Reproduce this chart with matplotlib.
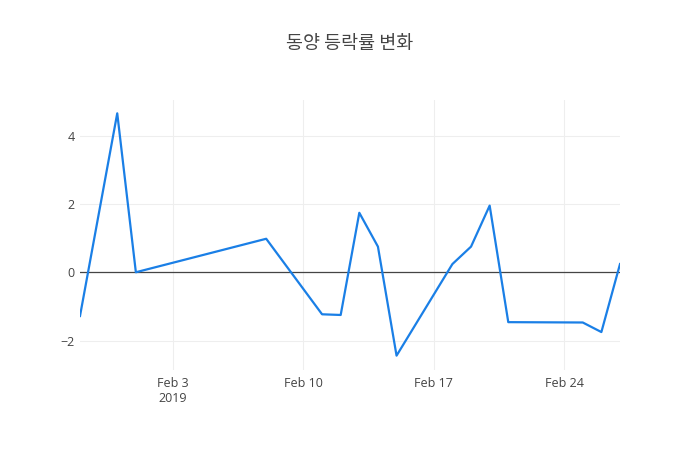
import matplotlib
matplotlib.use("Agg")
import matplotlib.pyplot as plt
import pandas as pd

# 동양 daily change rate (%)
dates = ["2019-01-29", "2019-01-31", "2019-02-01", "2019-02-08", "2019-02-11",
         "2019-02-12", "2019-02-13", "2019-02-14", "2019-02-15", "2019-02-18",
         "2019-02-19", "2019-02-20", "2019-02-21", "2019-02-25", "2019-02-26",
         "2019-02-27"]
rates = [-1.28, 4.65, 0.0, 0.98, -1.23, -1.25, 1.74, 0.75, -2.44, 0.24,
         0.75, 1.95, -1.46, -1.47, -1.75, 0.24]
tick_dates = ["2019-02-03", "2019-02-10", "2019-02-17", "2019-02-24"]
tick_labels = ["Feb 3\n2019", "Feb 10", "Feb 17", "Feb 24"]
title = "동양 등락률 변화"

x = pd.to_datetime(dates)

plt.rcParams['font.family'] = ['Open Sans', 'DejaVu Sans']

fig = plt.figure(figsize=(7, 4.5), dpi=100)
ax = fig.add_axes([80 / 700, 80 / 450, 540 / 700, 270 / 450])

ax.plot(x, rates, color='#1a7fe6', linewidth=1.6, zorder=3)
ax.axhline(0, color='#444444', linewidth=0.9, zorder=2)

ax.set_xlim(pd.Timestamp(dates[0]), pd.Timestamp(dates[-1]))
ax.set_ylim(-2.86, 5.04)

ax.set_xticks(pd.to_datetime(tick_dates))
ax.set_xticklabels(tick_labels)
ax.set_yticks([-2, 0, 2, 4])
ax.set_yticklabels(["\u22122", "0", "2", "4"])

ax.grid(True, color='#eeeeee', linewidth=0.8, zorder=0)
for s in ax.spines.values():
    s.set_visible(False)
ax.tick_params(length=0, labelsize=9, colors='#444444')
ax.tick_params(axis='x', pad=5)
ax.tick_params(axis='y', pad=4)

fig.text(0.5, 1 - 44 / 450, title, ha='center', va='center', fontsize=13.3,
         color='#444444', family=['Noto Sans CJK KR', 'DejaVu Sans'])

fig.savefig("out.png", dpi=100)
